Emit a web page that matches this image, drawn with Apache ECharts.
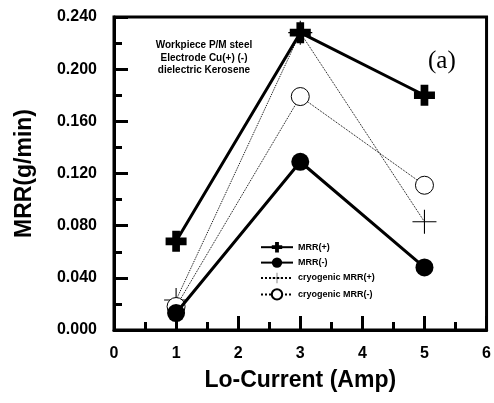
<!DOCTYPE html>
<html>
<head>
<meta charset="utf-8">
<script src="https://cdn.jsdelivr.net/npm/echarts@6/dist/echarts.min.js"></script>
<style>
html,body{margin:0;padding:0;background:#fff;}
#main{width:494px;height:403px;}
</style>
</head>
<body>
<div id="main"></div>
<script>
// data
var current = [1, 3, 5];
var mrrPlus = [0.068, 0.228, 0.180];
var mrrMinus = [0.013, 0.129, 0.048];
var cryoPlus = [0.023, 0.228, 0.083];
var cryoMinus = [0.018, 0.179, 0.111];
var yTicks = ['0.000', '0.040', '0.080', '0.120', '0.160', '0.200', '0.240'];

function pairs(ys) {
    var out = [];
    for (var i = 0; i < current.length; i++) out.push([current[i], ys[i]]);
    return out;
}

var boldPlus = 'path://M-1.1,-3 L1.1,-3 L1.1,-1.1 L3,-1.1 L3,1.1 L1.1,1.1 L1.1,3 L-1.1,3 L-1.1,1.1 L-3,1.1 L-3,-1.1 L-1.1,-1.1 Z';
var thinPlus = 'path://M-0.45,-10 L0.45,-10 L0.45,-0.45 L10,-0.45 L10,0.45 L0.45,0.45 L0.45,10 L-0.45,10 L-0.45,0.45 L-10,0.45 L-10,-0.45 L-0.45,-0.45 Z';

var myChart = echarts.init(document.getElementById('main'));
var font = 'Liberation Sans, Arial, sans-serif';

var option = {
    animation: false,
    backgroundColor: '#fff',
    grid: {
        left: 114, right: 6, top: 17, bottom: 73,
        show: true, borderColor: '#000', borderWidth: 3, backgroundColor: 'transparent'
    },
    title: [{
        text: 'Workpiece P/M steel\nElectrode Cu(+) (-)\ndielectric Kerosene',
        left: 199, top: 34, textAlign: 'center',
        textStyle: {fontFamily: font, fontSize: 10, fontWeight: 'bold', lineHeight: 12.5, color: '#000'}
    }, {
        text: '(a)',
        left: 423, top: 44,
        textStyle: {fontFamily: 'Liberation Serif, Times New Roman, serif', fontSize: 25, fontWeight: 'normal', color: '#000'}
    }],
    legend: {
        orient: 'vertical',
        left: 255, top: 237,
        itemWidth: 32, itemHeight: 13, itemGap: 5,
        textStyle: {fontFamily: font, fontSize: 9, fontWeight: 'bold', color: '#000'},
        data: ['MRR(+)', 'MRR(-)', 'cryogenic MRR(+)', 'cryogenic MRR(-)']
    },
    xAxis: {
        type: 'value', min: 0, max: 6, interval: 1,
        name: 'Lo-Current (Amp)', nameLocation: 'middle', nameGap: 39,
        nameTextStyle: {fontFamily: font, fontSize: 23, fontWeight: 'bold', color: '#000'},
        axisLine: {lineStyle: {color: '#000', width: 3}},
        axisTick: {inside: true, length: 14, lineStyle: {color: '#000', width: 3}},
        minorTick: {show: true, splitNumber: 2, length: 8, lineStyle: {color: '#000', width: 3}},
        axisLabel: {margin: 16, fontFamily: font, fontSize: 16, fontWeight: 'bold', color: '#000'},
        splitLine: {show: false}
    },
    yAxis: {
        type: 'value', min: 0, max: 0.24, interval: 0.04,
        name: 'MRR(g/min)', nameLocation: 'middle', nameGap: 78,
        nameTextStyle: {fontFamily: font, fontSize: 23, fontWeight: 'bold', color: '#000'},
        axisLine: {lineStyle: {color: '#000', width: 3}},
        axisTick: {inside: true, length: 14, lineStyle: {color: '#000', width: 3}},
        minorTick: {show: true, splitNumber: 2, length: 8, lineStyle: {color: '#000', width: 3}},
        axisLabel: {
            margin: 17, fontFamily: font, fontSize: 16, fontWeight: 'bold', color: '#000',
            formatter: function (v) { return yTicks[Math.round(v / 0.04)]; }
        },
        splitLine: {show: false}
    },
    series: [{
        name: 'MRR(+)', type: 'line', data: pairs(mrrPlus),
        symbol: boldPlus, symbolSize: 21,
        lineStyle: {color: '#000', width: 3}, itemStyle: {color: '#000'}, z: 5
    }, {
        name: 'MRR(-)', type: 'line', data: pairs(mrrMinus),
        symbol: 'circle', symbolSize: 18,
        lineStyle: {color: '#000', width: 3}, itemStyle: {color: '#000'}, z: 5
    }, {
        name: 'cryogenic MRR(+)', type: 'line', data: pairs(cryoPlus),
        symbol: thinPlus, symbolSize: 24,
        lineStyle: {color: '#000', width: 1, type: 'dotted'}, itemStyle: {color: '#000'}, z: 4
    }, {
        name: 'cryogenic MRR(-)', type: 'line', data: pairs(cryoMinus),
        symbol: 'circle', symbolSize: 18,
        lineStyle: {color: '#000', width: 1, type: 'dotted'},
        itemStyle: {color: '#fff', borderColor: '#000', borderWidth: 1}, z: 4
    }]
};

myChart.setOption(option);
</script>
</body>
</html>
